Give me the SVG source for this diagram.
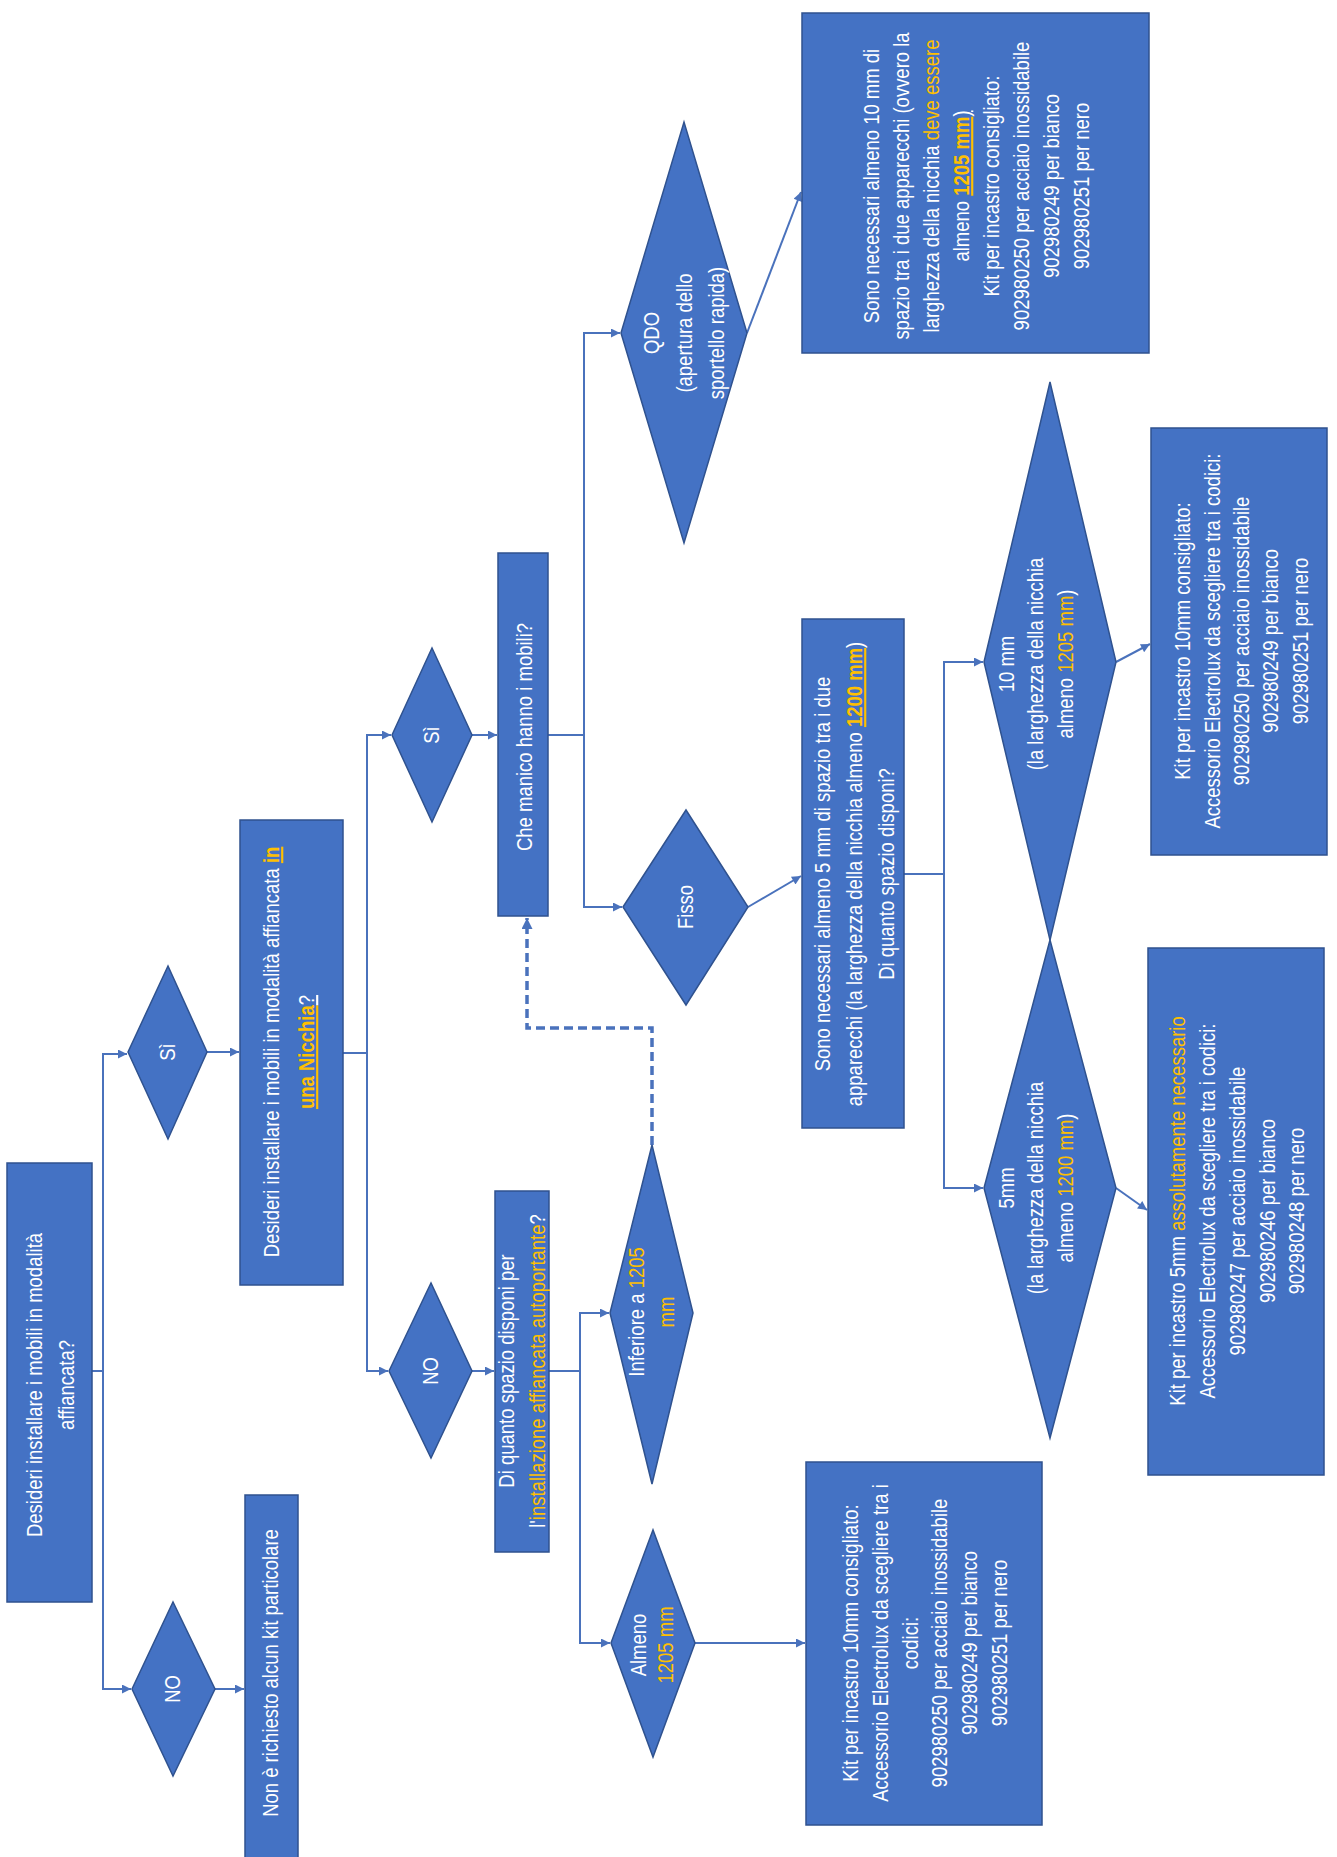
<svg xmlns="http://www.w3.org/2000/svg" width="1337" height="1857" viewBox="0 0 1337 1857">
<style>
.box{fill:#4472C4;stroke:#2F528F;stroke-width:1.5}
.t{font-family:"Liberation Sans",Arial,sans-serif;font-size:21.5px;fill:#fff;text-anchor:middle}
.y{fill:#FFC000}
.b{font-weight:bold}
.u{text-decoration:underline}
.c{fill:none;stroke:#4A72BC;stroke-width:2}
.d{stroke-dasharray:9 5;stroke-width:3.5}
</style>
<defs>
<marker id="ah" viewBox="0 0 10 10" refX="10" refY="5" markerWidth="11" markerHeight="9" markerUnits="userSpaceOnUse" orient="auto"><path d="M0,0 L10,5 L0,10 z" fill="#4A72BC"/></marker>
<marker id="ahd" viewBox="0 0 10 10" refX="10" refY="5" markerWidth="13" markerHeight="11" markerUnits="userSpaceOnUse" orient="auto"><path d="M0,0 L10,5 L0,10 z" fill="#4A72BC"/></marker>
</defs>
<rect width="1337" height="1857" fill="#fff"/>
<g id="connectors">
<path class="c" d="M92,1371 H103 V1054 H127" marker-end="url(#ah)"/>
<path class="c" d="M103,1371 V1689 H131" marker-end="url(#ah)"/>
<path class="c" d="M207,1052 H239" marker-end="url(#ah)"/>
<path class="c" d="M215,1689 H244" marker-end="url(#ah)"/>
<path class="c" d="M343,1053 H367 V735 H391" marker-end="url(#ah)"/>
<path class="c" d="M367,1053 V1371 H388" marker-end="url(#ah)"/>
<path class="c" d="M472,735 H497" marker-end="url(#ah)"/>
<path class="c" d="M472,1371 H494" marker-end="url(#ah)"/>
<path class="c" d="M548,735 H584 V333 H620" marker-end="url(#ah)"/>
<path class="c" d="M584,735 V907 H622" marker-end="url(#ah)"/>
<path class="c" d="M747,333 L801,192" marker-end="url(#ah)"/>
<path class="c" d="M748,907 L801,876" marker-end="url(#ah)"/>
<path class="c" d="M904,874 H944 V662 H983" marker-end="url(#ah)"/>
<path class="c" d="M944,874 V1188 H983" marker-end="url(#ah)"/>
<path class="c" d="M1116,662 L1150,644" marker-end="url(#ah)"/>
<path class="c" d="M1116,1188 L1147,1210" marker-end="url(#ah)"/>
<path class="c" d="M549,1371 H580 V1313 H609" marker-end="url(#ah)"/>
<path class="c" d="M580,1371 V1643 H610" marker-end="url(#ah)"/>
<path class="c" d="M695,1643 H805" marker-end="url(#ah)"/>
<path class="c d" d="M652,1145 V1028 H527 V918" marker-end="url(#ahd)"/>
</g>
<g id="start">
<rect class="box" x="7" y="1163" width="85" height="439"/>
<text class="t" transform="translate(50,1385) rotate(-90) scale(0.86,1)"><tspan x="0" y="-8">Desideri installare i mobili in modalità</tspan><tspan x="0" y="24">affiancata?</tspan></text>
</g>
<g id="si1">
<polygon class="box" points="128,1052 168,966 207,1052 168,1139"/>
<text class="t" transform="translate(168,1052) rotate(-90) scale(0.86,1)"><tspan x="0" y="7">Sì</tspan></text>
</g>
<g id="no1">
<polygon class="box" points="132,1689 173,1602 215,1689 173,1776"/>
<text class="t" transform="translate(173,1689) rotate(-90) scale(0.86,1)"><tspan x="0" y="7">NO</tspan></text>
</g>
<g id="nokit">
<rect class="box" x="245" y="1495" width="53" height="370"/>
<text class="t" transform="translate(271,1673) rotate(-90) scale(0.86,1)"><tspan x="0" y="7">Non è richiesto alcun kit particolare</tspan></text>
</g>
<g id="nicchia">
<rect class="box" x="240" y="820" width="103" height="465"/>
<text class="t" transform="translate(291,1052) rotate(-90) scale(0.86,1)"><tspan x="0" y="-12">Desideri installare i mobili in modalità affiancata <tspan class="y b u">in</tspan></tspan><tspan x="0" y="23"><tspan class="y b u">una Nicchia</tspan><tspan class="u">?</tspan></tspan></text>
</g>
<g id="si2">
<polygon class="box" points="392,735 432,648 472,735 432,822"/>
<text class="t" transform="translate(432,735) rotate(-90) scale(0.86,1)"><tspan x="0" y="7">Sì</tspan></text>
</g>
<g id="no2">
<polygon class="box" points="389,1371 431,1283 472,1371 431,1458"/>
<text class="t" transform="translate(431,1371) rotate(-90) scale(0.86,1)"><tspan x="0" y="7">NO</tspan></text>
</g>
<g id="manico">
<rect class="box" x="498" y="553" width="50" height="363"/>
<text class="t" transform="translate(523,737) rotate(-90) scale(0.86,1)"><tspan x="0" y="9">Che manico hanno i mobili?</tspan></text>
</g>
<g id="spazio">
<rect class="box" x="495" y="1191" width="54" height="361"/>
<text class="t" transform="translate(522,1371) rotate(-90) scale(0.86,1)"><tspan x="0" y="-8">Di quanto spazio disponi per</tspan><tspan x="0" y="23">l'<tspan class="y">installazione affiancata autoportante</tspan>?</tspan></text>
</g>
<g id="inferiore">
<polygon class="box" points="610,1313 652,1145 693,1313 652,1484"/>
<text class="t" transform="translate(651,1312) rotate(-90) scale(0.86,1)"><tspan x="0" y="-7">Inferiore a <tspan class="y">1205</tspan></tspan><tspan x="0" y="23" class="y">mm</tspan></text>
</g>
<g id="almeno">
<polygon class="box" points="611,1643 653,1530 695,1643 653,1757"/>
<text class="t" transform="translate(653,1645) rotate(-90) scale(0.86,1)"><tspan x="0" y="-7">Almeno</tspan><tspan x="0" y="20" class="y">1205 mm</tspan></text>
</g>
<g id="kit10a">
<rect class="box" x="806" y="1462" width="236" height="363"/>
<text class="t" transform="translate(924,1643) rotate(-90) scale(0.86,1)"><tspan x="0" y="-66">Kit per incastro 10mm consigliato:</tspan><tspan x="0" y="-36">Accessorio Electrolux da scegliere tra i</tspan><tspan x="0" y="-6">codici:</tspan><tspan x="0" y="23">902980250 per acciaio inossidabile</tspan><tspan x="0" y="53">902980249 per bianco</tspan><tspan x="0" y="83">902980251 per nero</tspan></text>
</g>
<g id="qdo">
<polygon class="box" points="621,333 684,122 747,333 684,543"/>
<text class="t" transform="translate(684,333) rotate(-90) scale(0.86,1)"><tspan x="0" y="-25">QDO</tspan><tspan x="0" y="8">(apertura dello</tspan><tspan x="0" y="40">sportello rapida)</tspan></text>
</g>
<g id="qdobox">
<rect class="box" x="802" y="13" width="347" height="340"/>
<text class="t" transform="translate(975,186) rotate(-90) scale(0.86,1)"><tspan x="0" y="-96">Sono necessari almeno 10 mm di</tspan><tspan x="0" y="-66">spazio tra i due apparecchi (ovvero la</tspan><tspan x="0" y="-36">larghezza della nicchia <tspan class="y">deve essere</tspan></tspan><tspan x="0" y="-6">almeno <tspan class="y b u">1205 mm</tspan><tspan class="u">)</tspan></tspan><tspan x="0" y="24">Kit per incastro consigliato:</tspan><tspan x="0" y="54">902980250 per acciaio inossidabile</tspan><tspan x="0" y="84">902980249 per bianco</tspan><tspan x="0" y="114">902980251 per nero</tspan></text>
</g>
<g id="fisso">
<polygon class="box" points="623,907 686,810 748,907 686,1005"/>
<text class="t" transform="translate(686,907) rotate(-90) scale(0.86,1)"><tspan x="0" y="7">Fisso</tspan></text>
</g>
<g id="fissobox">
<rect class="box" x="802" y="619" width="102" height="509"/>
<text class="t" transform="translate(853,874) rotate(-90) scale(0.86,1)"><tspan x="0" y="-23">Sono necessari almeno 5 mm di spazio tra i due</tspan><tspan x="0" y="9">apparecchi (la larghezza della nicchia almeno <tspan class="y b u">1200 mm</tspan>)</tspan><tspan x="0" y="41">Di quanto spazio disponi?</tspan></text>
</g>
<g id="d10">
<polygon class="box" points="984,662 1050,382 1116,662 1050,940"/>
<text class="t" transform="translate(1050,664) rotate(-90) scale(0.86,1)"><tspan x="0" y="-36">10 mm</tspan><tspan x="0" y="-7">(la larghezza della nicchia</tspan><tspan x="0" y="23">almeno <tspan class="y">1205 mm</tspan>)</tspan></text>
</g>
<g id="d5">
<polygon class="box" points="984,1188 1050,940 1116,1188 1050,1438"/>
<text class="t" transform="translate(1050,1188) rotate(-90) scale(0.86,1)"><tspan x="0" y="-36">5mm</tspan><tspan x="0" y="-7">(la larghezza della nicchia</tspan><tspan x="0" y="23">almeno <tspan class="y">1200 mm</tspan>)</tspan></text>
</g>
<g id="kit10b">
<rect class="box" x="1151" y="428" width="176" height="427"/>
<text class="t" transform="translate(1239,641) rotate(-90) scale(0.86,1)"><tspan x="0" y="-49">Kit per incastro 10mm consigliato:</tspan><tspan x="0" y="-19.5">Accessorio Electrolux da scegliere tra i codici:</tspan><tspan x="0" y="10">902980250 per acciaio inossidabile</tspan><tspan x="0" y="39.5">902980249 per bianco</tspan><tspan x="0" y="69">902980251 per nero</tspan></text>
</g>
<g id="kit5">
<rect class="box" x="1148" y="948" width="176" height="527"/>
<text class="t" transform="translate(1236,1211) rotate(-90) scale(0.86,1)"><tspan x="0" y="-51">Kit per incastro 5mm <tspan class="y">assolutamente necessario</tspan></tspan><tspan x="0" y="-21">Accessorio Electrolux da scegliere tra i codici:</tspan><tspan x="0" y="9">902980247 per acciaio inossidabile</tspan><tspan x="0" y="39">902980246 per bianco</tspan><tspan x="0" y="68">902980248 per nero</tspan></text>
</g>
</svg>
